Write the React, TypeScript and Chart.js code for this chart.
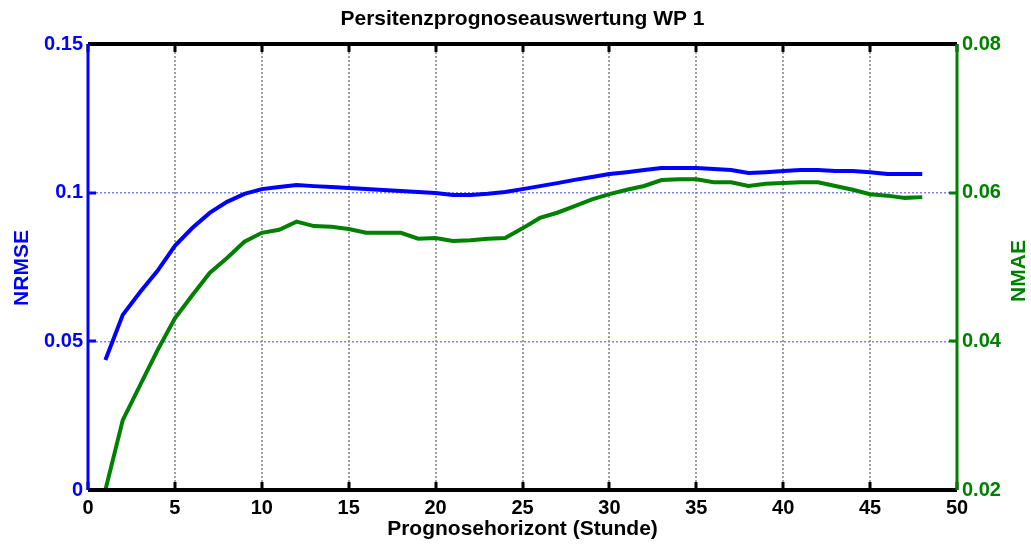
import React, { useEffect, useRef } from "react";
import { Chart, registerables } from "chart.js";

Chart.register(...registerables);

const hours: number[] = [
  1, 2, 3, 4, 5, 6, 7, 8, 9, 10, 11, 12, 13, 14, 15, 16, 17, 18, 19, 20, 21, 22, 23, 24,
  25, 26, 27, 28, 29, 30, 31, 32, 33, 34, 35, 36, 37, 38, 39, 40, 41, 42, 43, 44, 45, 46, 47, 48,
];

const nrmse: number[] = [
  0.0437, 0.0589, 0.0666, 0.0737, 0.0821, 0.0881, 0.0932, 0.0969, 0.0996, 0.1012, 0.1019, 0.1026,
  0.1022, 0.1019, 0.1016, 0.1012, 0.1009, 0.1006, 0.1002, 0.0999, 0.0992, 0.0992, 0.0996, 0.1002,
  0.1012, 0.1022, 0.1032, 0.1043, 0.1053, 0.1063, 0.1069, 0.1076, 0.1083, 0.1083, 0.1083, 0.108,
  0.1076, 0.1066, 0.1069, 0.1073, 0.1076, 0.1076, 0.1073, 0.1073, 0.1069, 0.1063, 0.1063, 0.1063,
];

const nmae: number[] = [
  0.02, 0.0294, 0.0341, 0.0388, 0.0431, 0.0462, 0.0492, 0.0512, 0.0534, 0.0546, 0.055, 0.0561,
  0.0555, 0.0554, 0.0551, 0.0546, 0.0546, 0.0546, 0.0538, 0.0539, 0.0535, 0.0536, 0.0538, 0.0539,
  0.0552, 0.0566, 0.0573, 0.0582, 0.0591, 0.0598, 0.0604, 0.0609, 0.0617, 0.0618, 0.0618, 0.0614,
  0.0614, 0.0609, 0.0612, 0.0613, 0.0614, 0.0614, 0.0609, 0.0604, 0.0598, 0.0596, 0.0593, 0.0594,
];

const titleText = "Persitenzprognoseauswertung WP 1";
const xTitle = "Prognosehorizont (Stunde)";
const leftTitle = "NRMSE";
const rightTitle = "NMAE";

const BLUE = "#0000ff";
const GREEN = "#008000";
const FONT = "'Liberation Sans', Arial, sans-serif";

const fmt = (v: number) => String(Number(Number(v).toFixed(3)));

const framePlugin = {
  id: "framePlugin",
  afterDraw(chart: any) {
    const { ctx, chartArea } = chart;
    const { left, right, top, bottom } = chartArea;
    const xs = chart.scales.x;
    const yl = chart.scales.y;
    const yr = chart.scales.y1;
    ctx.save();
    ctx.setLineDash([]);
    // inward tick marks
    ctx.lineWidth = 3;
    ctx.strokeStyle = "#000";
    xs.ticks.forEach((t: any) => {
      const px = Math.round(xs.getPixelForValue(t.value));
      ctx.beginPath();
      ctx.moveTo(px, bottom);
      ctx.lineTo(px, bottom - 8);
      ctx.moveTo(px, top);
      ctx.lineTo(px, top + 8);
      ctx.stroke();
    });
    ctx.strokeStyle = BLUE;
    yl.ticks.forEach((t: any) => {
      const py = Math.round(yl.getPixelForValue(t.value));
      ctx.beginPath();
      ctx.moveTo(left, py);
      ctx.lineTo(left + 8, py);
      ctx.stroke();
    });
    ctx.strokeStyle = GREEN;
    yr.ticks.forEach((t: any) => {
      const py = Math.round(yr.getPixelForValue(t.value));
      ctx.beginPath();
      ctx.moveTo(right, py);
      ctx.lineTo(right - 8, py);
      ctx.stroke();
    });
    // frame
    ctx.lineWidth = 4;
    ctx.strokeStyle = "#000";
    ctx.beginPath();
    ctx.moveTo(left, top);
    ctx.lineTo(right, top);
    ctx.moveTo(left, bottom);
    ctx.lineTo(right, bottom);
    ctx.stroke();
    ctx.lineWidth = 3;
    ctx.strokeStyle = BLUE;
    ctx.beginPath();
    ctx.moveTo(left, top);
    ctx.lineTo(left, bottom);
    ctx.stroke();
    ctx.strokeStyle = GREEN;
    ctx.beginPath();
    ctx.moveTo(right, top);
    ctx.lineTo(right, bottom);
    ctx.stroke();

    // titles
    ctx.textAlign = "center";
    ctx.textBaseline = "middle";
    ctx.fillStyle = "#000";
    ctx.font = `bold 21px ${FONT}`;
    ctx.fillText(titleText, (left + right) / 2, 19);
    ctx.fillText(xTitle, (left + right) / 2, 529);
    ctx.save();
    ctx.translate(22, 268);
    ctx.rotate(-Math.PI / 2);
    ctx.fillStyle = BLUE;
    ctx.fillText(leftTitle, 0, 0);
    ctx.restore();
    ctx.save();
    ctx.translate(1019, 271);
    ctx.rotate(-Math.PI / 2);
    ctx.fillStyle = GREEN;
    ctx.fillText(rightTitle, 0, 0);
    ctx.restore();
    ctx.restore();
  },
};

export default function App() {
  const ref = useRef<HTMLCanvasElement | null>(null);
  useEffect(() => {
    if (!ref.current) return;
    const chart = new Chart(ref.current, {
      type: "line",
      data: {
        datasets: [
          {
            label: leftTitle,
            data: hours.map((h, i) => ({ x: h, y: nrmse[i] })),
            borderColor: BLUE,
            backgroundColor: BLUE,
            borderWidth: 4,
            pointRadius: 0,
            tension: 0,
            yAxisID: "y",
          },
          {
            label: rightTitle,
            data: hours.map((h, i) => ({ x: h, y: nmae[i] })),
            borderColor: GREEN,
            backgroundColor: GREEN,
            borderWidth: 4,
            pointRadius: 0,
            tension: 0,
            yAxisID: "y1",
          },
        ],
      },
      options: {
        responsive: false,
        animation: false,
        events: [],
        layout: { padding: { top: 44, left: 0, right: 0, bottom: 0 } },
        plugins: { legend: { display: false }, title: { display: false }, tooltip: { enabled: false } },
        scales: {
          x: {
            type: "linear",
            min: 0,
            max: 50,
            border: { display: false, dash: [2, 2] },
            ticks: {
              stepSize: 5,
              color: "#000",
              font: { family: FONT, size: 20, weight: "bold" },
              padding: 6,
              maxRotation: 0,
              callback: (v: any) => fmt(v),
            },
            grid: {
              drawTicks: false,
              color: (c: any) =>
                c.tick && (c.tick.value === 0 || c.tick.value === 50) ? "rgba(0,0,0,0)" : "#a0a0a0",
              lineWidth: 2,
            },
            afterFit: (s: any) => {
              s.height = 54;
            },
          },
          y: {
            type: "linear",
            position: "left",
            min: 0,
            max: 0.15,
            border: { display: false, dash: [2, 2] },
            ticks: {
              stepSize: 0.05,
              color: BLUE,
              font: { family: FONT, size: 20, weight: "bold" },
              padding: 5,
              callback: (v: any) => fmt(v),
            },
            grid: {
              drawTicks: false,
              color: (c: any) =>
                c.tick && (Math.abs(c.tick.value) < 1e-9 || Math.abs(c.tick.value - 0.15) < 1e-9)
                  ? "rgba(0,0,0,0)"
                  : "#8080ff",
              lineWidth: 1.5,
            },
            afterFit: (s: any) => {
              s.width = 88;
            },
          },
          y1: {
            type: "linear",
            position: "right",
            min: 0.02,
            max: 0.08,
            border: { display: false },
            ticks: {
              stepSize: 0.02,
              color: GREEN,
              font: { family: FONT, size: 20, weight: "bold" },
              padding: 5,
              callback: (v: any) => fmt(v),
            },
            grid: { display: false, drawTicks: false },
            afterFit: (s: any) => {
              s.width = 74;
            },
          },
        },
      } as any,
      plugins: [framePlugin],
    });
    return () => chart.destroy();
  }, []);
  return (
    <div style={{ position: "fixed", left: 0, top: 0, width: 1031, height: 544, background: "#fff" }}>
      <canvas ref={ref} width={1031} height={544} style={{ width: 1031, height: 544, display: "block" }} />
    </div>
  );
}
